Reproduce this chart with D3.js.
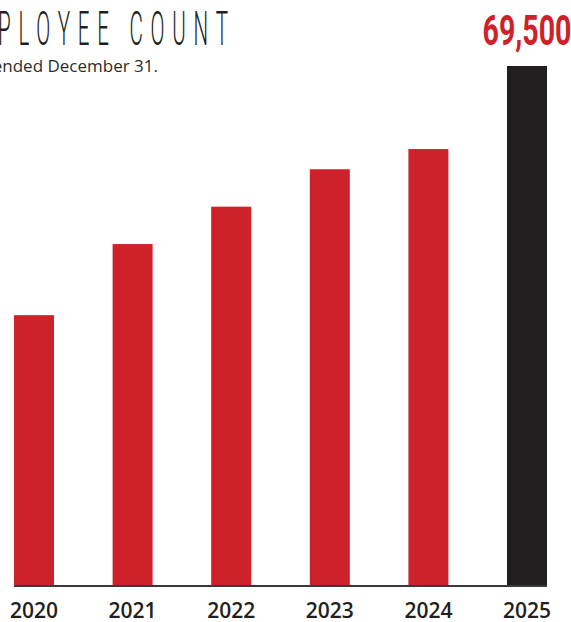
<!DOCTYPE html>
<html>
<head>
<meta charset="utf-8">
<script src="https://cdn.jsdelivr.net/npm/d3@7"></script>
<style>
  html, body { margin: 0; padding: 0; background: #fff; overflow: hidden; }
  svg { display: block; }
</style>
</head>
<body>
<svg id="chart" width="571" height="622"></svg>
<script>
// Employee headcount by year (as of December 31)
const years = ["2020", "2021", "2022", "2023", "2024", "2025"];
const employees = [36200, 45700, 50700, 55700, 58400, 69500];
const highlightYear = "2025";
const highlightLabel = "69,500";

const baseY = 586, topY = 66;
const red = "#ce2129", dark = "#231f20";

const svg = d3.select("#chart");

const x = d3.scaleBand()
  .domain(years)
  .range([14, 547])
  .paddingInner(0.5943)
  .paddingOuter(0);

const y = d3.scaleLinear()
  .domain([0, d3.max(employees)])
  .range([baseY, topY]);

const data = years.map((yr, i) => ({ year: yr, value: employees[i] }));

// Condensed text helper: horizontal squeeze around an anchor x
function squeeze(sel, ax, sx) {
  sel.attr("transform", `translate(${ax},0) scale(${sx},1) translate(${-ax},0)`);
}

// Title
const titleScale = 0.42, titleSpacing = 18.5;
const titleEnd = 228 + titleSpacing * titleScale;
svg.append("text")
  .attr("x", titleEnd)
  .attr("y", 45)
  .attr("text-anchor", "end")
  .call(squeeze, titleEnd, titleScale)
  .attr("font-family", "Roboto")
  .attr("font-weight", 300)
  .attr("font-size", 49)
  .attr("letter-spacing", titleSpacing)
  .attr("fill", "#231f20")
  .text("EMPLOYEE COUNT");

// Subtitle
svg.append("text")
  .attr("x", 158)
  .attr("y", 72)
  .attr("text-anchor", "end")
  .attr("font-family", "Open Sans")
  .attr("font-size", 17)
  .attr("fill", "#2b2b2b")
  .text("For the fiscal years ended December 31.");

// Bars
svg.append("g")
  .selectAll("rect")
  .data(data)
  .join("rect")
  .attr("x", d => x(d.year))
  .attr("width", x.bandwidth())
  .attr("y", d => y(d.value))
  .attr("height", d => baseY - y(d.value))
  .attr("fill", d => d.year === highlightYear ? dark : red);

// Value label above the highlighted bar
const hx = x(highlightYear) + x.bandwidth() / 2;
svg.append("text")
  .attr("x", hx)
  .attr("y", 45)
  .attr("text-anchor", "middle")
  .call(squeeze, hx, 0.68)
  .attr("font-family", "Roboto")
  .attr("font-weight", 700)
  .attr("font-size", 42)
  .attr("fill", red)
  .text(highlightLabel);

// Baseline axis with year labels
const axis = svg.append("g")
  .attr("transform", `translate(0,${baseY})`)
  .call(d3.axisBottom(x).tickSize(0));

axis.select(".domain")
  .attr("d", `M${x.range()[0]},0H${x.range()[1]}`)
  .attr("stroke", "#3a3a3a")
  .attr("stroke-width", 2);

axis.selectAll(".tick text")
  .attr("y", 32)
  .attr("dy", null)
  .attr("font-family", "Open Sans")
  .attr("font-weight", 550)
  .attr("font-size", 21)
  .attr("fill", "#231f20");
</script>
</body>
</html>
